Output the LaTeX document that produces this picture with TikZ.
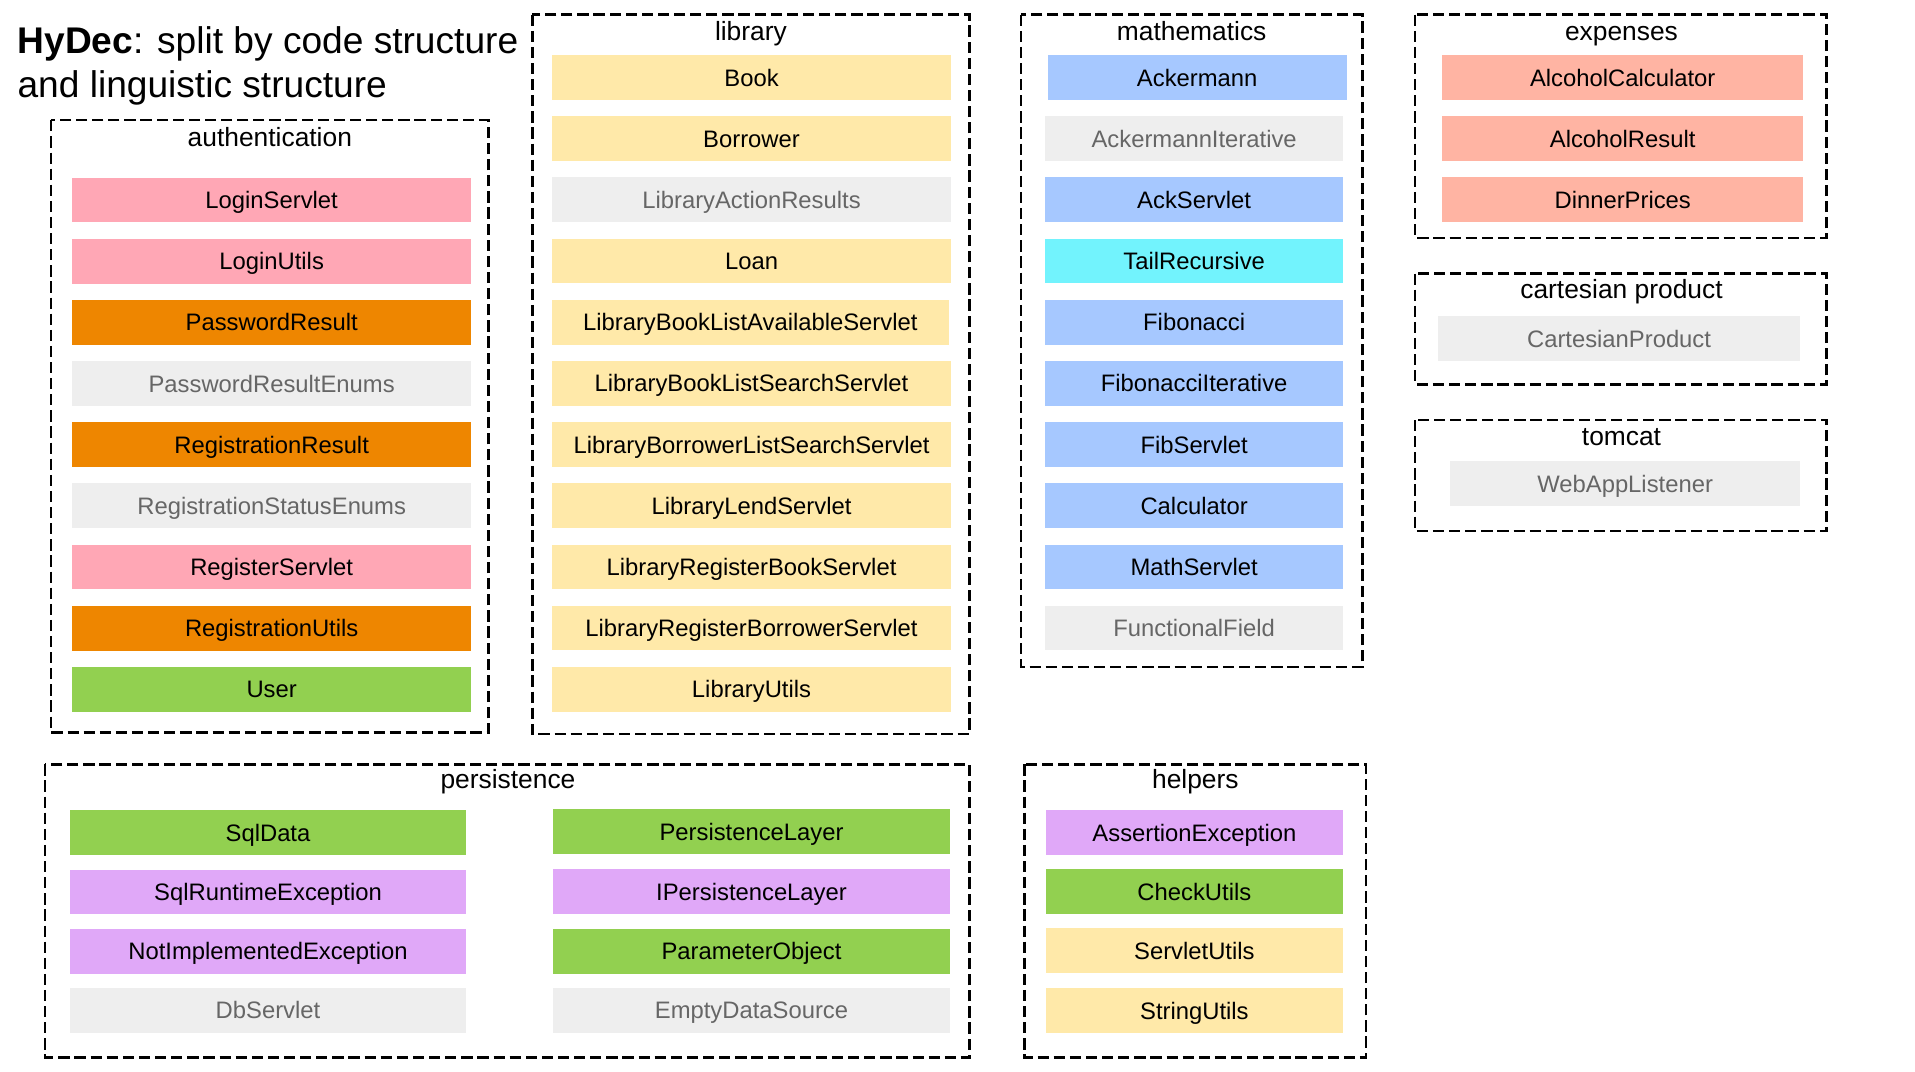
\documentclass[tikz,border=0pt]{standalone}
\usepackage{fontspec}
\setmainfont{Liberation Sans}
\usetikzlibrary{positioning}
\definecolor{pinkc}{HTML}{FFA7B5}
\definecolor{orangec}{HTML}{EE8600}
\definecolor{greyc}{HTML}{EEEEEE}
\definecolor{greytext}{HTML}{666666}
\definecolor{greenc}{HTML}{92D050}
\definecolor{yellowc}{HTML}{FFE9A9}
\definecolor{bluec}{HTML}{A6C8FF}
\definecolor{cyanc}{HTML}{72F3FD}
\definecolor{salmonc}{HTML}{FFB4A3}
\definecolor{purplec}{HTML}{E0A8F8}

\begin{document}
\begin{tikzpicture}[x=0.5pt,y=-0.5pt,
  cls/.style={minimum height=18.35pt,inner sep=0pt,text height=7pt,text depth=0pt,
    font=\fontsize{9.75}{11.7}\selectfont},
  pink/.style={cls,fill=pinkc},
  orange/.style={cls,fill=orangec},
  green/.style={cls,fill=greenc},
  yellow/.style={cls,fill=yellowc},
  blue/.style={cls,fill=bluec},
  cyan/.style={cls,fill=cyanc},
  salmon/.style={cls,fill=salmonc},
  purple/.style={cls,fill=purplec},
  gone/.style={cls,fill=greyc,text=greytext},
  wide/.style={minimum width=163.5pt},
  half/.style={minimum width=162.5pt},
  mid/.style={minimum width=122pt},
  exp/.style={minimum width=148pt},
  pkg/.style={draw,line width=0.95pt,dash pattern=on 4.6pt off 2pt},
  pkgname/.style={anchor=base,font=\fontsize{10.8}{13}\selectfont}]
  \useasboundingbox (0,0) rectangle (1568.4,877.2);

  % title
  \node[anchor=base west,inner sep=0pt,font=\fontsize{15.2}{18}\selectfont] (title1) at (14,43.5) {\textbf{HyDec}: split by code structure};
  \node[anchor=base west,inner sep=0pt,font=\fontsize{15.2}{18}\selectfont] (title2) at (14,79.5) {and linguistic structure};

  % packages
  \draw[pkg] (42,98.5) rectangle (400,600);
  \node[pkgname] (authname) at (221,120) {authentication};
  \draw[pkg] (436,12) rectangle (794,601);
  \node[pkgname] (libname) at (615,33) {library};
  \draw[pkg] (836,12) rectangle (1116,546);
  \node[pkgname] (mathname) at (976,33) {mathematics};
  \draw[pkg] (1159,12) rectangle (1496,195);
  \node[pkgname] (expname) at (1328,33) {expenses};
  \draw[pkg] (1159,224) rectangle (1496,315);
  \node[pkgname] (cartname) at (1328,244.6) {cartesian product};
  \draw[pkg] (1159,344) rectangle (1496,435);
  \node[pkgname] (tomcatname) at (1328,364.6) {tomcat};
  \draw[pkg] (37,626) rectangle (794,866);
  \node[pkgname] (persname) at (416,645.6) {persistence};
  \draw[pkg] (839,626) rectangle (1119,866);
  \node[pkgname] (helpname) at (979,645.6) {helpers};

  % authentication
  \node[pink,wide] (loginservlet) at (222.5,163.8) {LoginServlet};
  \node[pink,wide] (loginutils) at (222.5,213.9) {LoginUtils};
  \node[orange,wide] (passwordresult) at (222.5,264.0) {PasswordResult};
  \node[gone,wide] (passwordenums) at (222.5,314.1) {PasswordResultEnums};
  \node[orange,wide] (registrationresult) at (222.5,364.2) {RegistrationResult};
  \node[gone,wide] (registrationenums) at (222.5,414.3) {RegistrationStatusEnums};
  \node[pink,wide] (registerservlet) at (222.5,464.4) {RegisterServlet};
  \node[orange,wide] (registrationutils) at (222.5,514.5) {RegistrationUtils};
  \node[green,wide] (user) at (222.5,564.6) {User};

  % library
  \node[yellow,wide] (book) at (615.5,63.5) {Book};
  \node[yellow,wide] (borrower) at (615.5,113.6) {Borrower};
  \node[gone,wide] (actionresults) at (615.5,163.7) {LibraryActionResults};
  \node[yellow,wide] (loan) at (615.5,213.8) {Loan};
  \node[yellow,half] (availableservlet) at (614.5,263.9) {LibraryBookListAvailableServlet};
  \node[yellow,wide] (booksearch) at (615.5,314.0) {LibraryBookListSearchServlet};
  \node[yellow,wide] (borrowersearch) at (615.5,364.1) {LibraryBorrowerListSearchServlet};
  \node[yellow,wide] (lendservlet) at (615.5,414.2) {LibraryLendServlet};
  \node[yellow,wide] (registerbook) at (615.5,464.3) {LibraryRegisterBookServlet};
  \node[yellow,wide] (registerborrower) at (615.5,514.4) {LibraryRegisterBorrowerServlet};
  \node[yellow,wide] (libraryutils) at (615.5,564.5) {LibraryUtils};

  % mathematics
  \node[blue,minimum width=122.5pt] (ackermann) at (980.5,63.5) {Ackermann};
  \node[gone,mid] (ackermanniter) at (978,113.6) {AckermannIterative};
  \node[blue,mid] (ackservlet) at (978,163.7) {AckServlet};
  \node[cyan,mid] (tailrecursive) at (978,213.8) {TailRecursive};
  \node[blue,mid] (fibonacci) at (978,263.9) {Fibonacci};
  \node[blue,mid] (fibonacciiter) at (978,314.0) {FibonacciIterative};
  \node[blue,mid] (fibservlet) at (978,364.1) {FibServlet};
  \node[blue,mid] (calculator) at (978,414.2) {Calculator};
  \node[blue,mid] (mathservlet) at (978,464.3) {MathServlet};
  \node[gone,mid] (functionalfield) at (978,514.4) {FunctionalField};

  % expenses, cartesian product, tomcat
  \node[salmon,exp] (alcoholcalc) at (1329,63.5) {AlcoholCalculator};
  \node[salmon,exp] (alcoholresult) at (1329,113.6) {AlcoholResult};
  \node[salmon,exp] (dinnerprices) at (1329,163.7) {DinnerPrices};
  \node[gone,exp] (cartesian) at (1326,277.5) {CartesianProduct};
  \node[gone,minimum width=143.5pt] (webapp) at (1331,396) {WebAppListener};

  % persistence
  \node[green,half] (sqldata) at (219.5,682) {SqlData};
  \node[purple,half] (sqlruntime) at (219.5,730.5) {SqlRuntimeException};
  \node[purple,half] (notimplemented) at (219.5,779) {NotImplementedException};
  \node[gone,half] (dbservlet) at (219.5,827.5) {DbServlet};
  \node[green,half] (persistencelayer) at (615.5,681.3) {PersistenceLayer};
  \node[purple,half] (ipersistencelayer) at (615.5,730.2) {IPersistenceLayer};
  \node[green,half] (parameterobject) at (615.5,779) {ParameterObject};
  \node[gone,half] (emptydatasource) at (615.5,827.5) {EmptyDataSource};

  % helpers
  \node[purple,minimum width=121.5pt] (assertion) at (978.2,681.8) {AssertionException};
  \node[green,minimum width=121.5pt] (checkutils) at (978.2,730.2) {CheckUtils};
  \node[yellow,minimum width=121.5pt] (servletutils) at (978.2,778.7) {ServletUtils};
  \node[yellow,minimum width=121.5pt] (stringutils) at (978.2,827.6) {StringUtils};
\end{tikzpicture}
\end{document}
